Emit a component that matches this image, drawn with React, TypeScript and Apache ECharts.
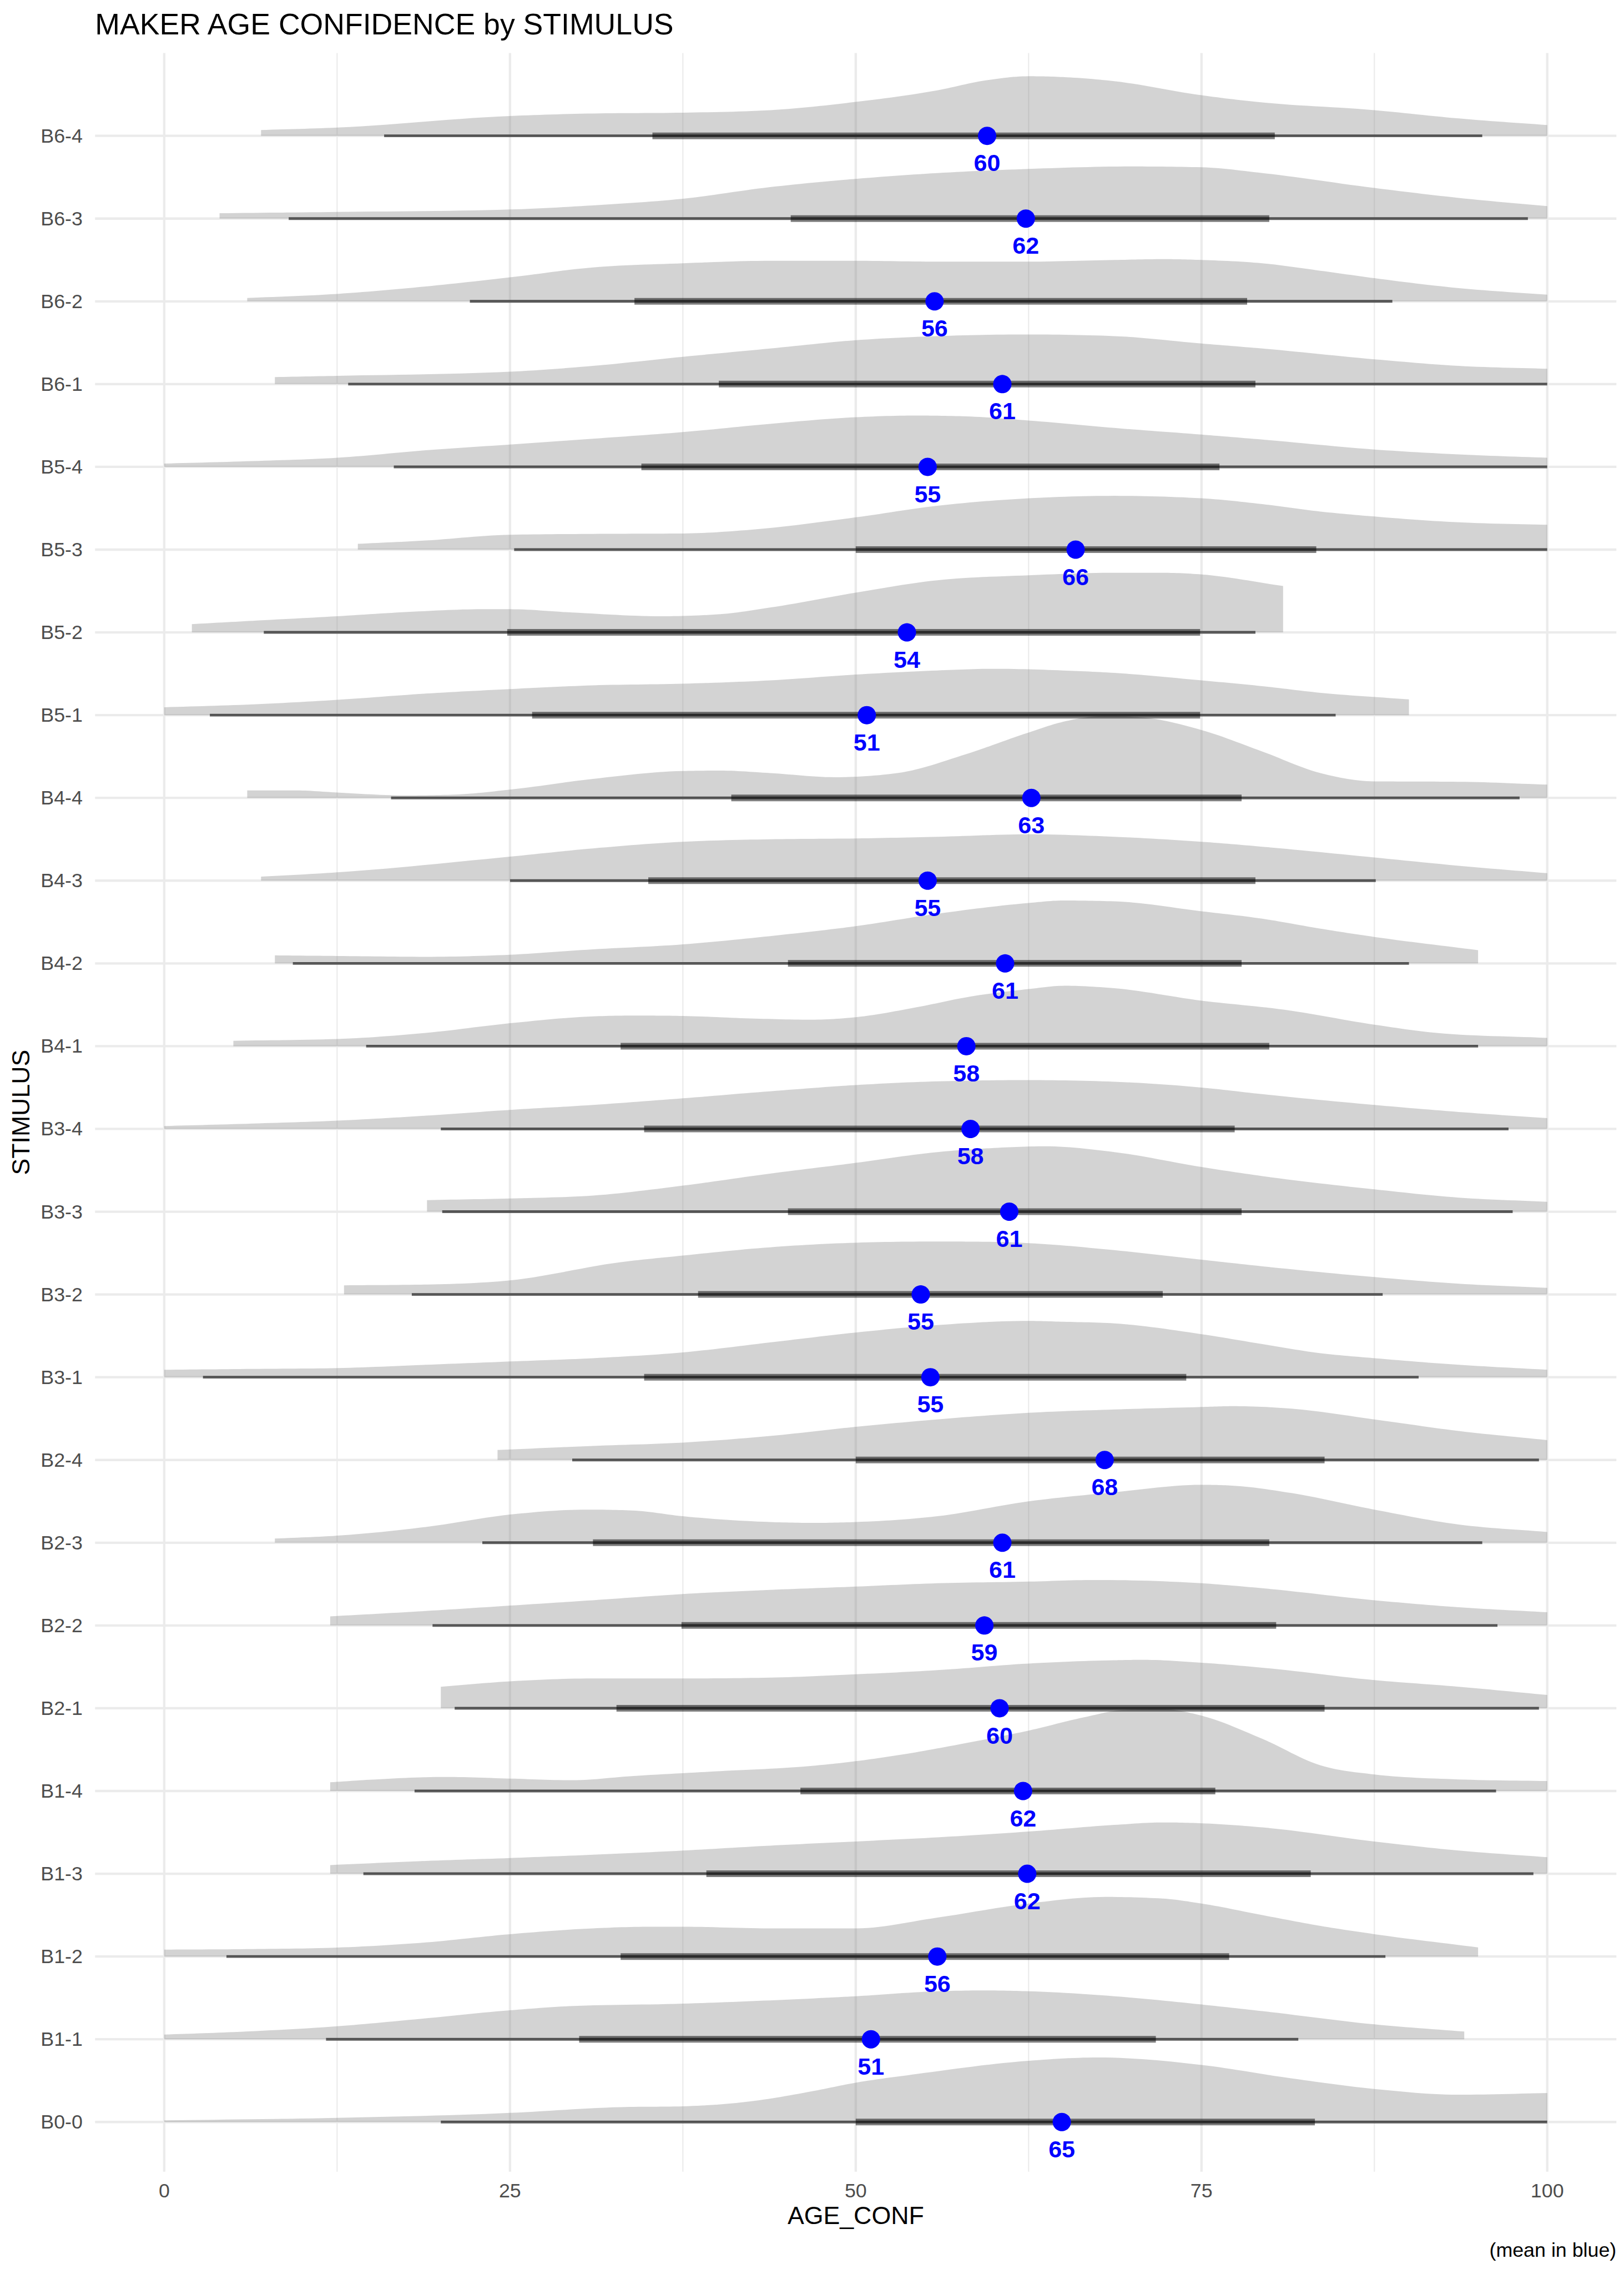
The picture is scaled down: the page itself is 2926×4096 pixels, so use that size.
import React, { useEffect, useRef } from 'react';
import * as echarts from 'echarts';

const W = 2926;
const H = 4096;
const FONT = "'Liberation Sans', Arial, Helvetica, sans-serif";

// Categories, bottom to top (y value = index)
const categories = ['B0-0', 'B1-1', 'B1-2', 'B1-3', 'B1-4', 'B2-1', 'B2-2', 'B2-3', 'B2-4', 'B3-1', 'B3-2', 'B3-3', 'B3-4', 'B4-1', 'B4-2', 'B4-3', 'B4-4', 'B5-1', 'B5-2', 'B5-3', 'B5-4', 'B6-1', 'B6-2', 'B6-3', 'B6-4'];

const xTicks = [0, 25, 50, 75, 100];
const xMinorTicks = [12.5, 37.5, 62.5, 87.5];

// 95% interval (thin line)
const thinLo = [20.0, 11.7, 4.5, 14.4, 18.1, 21.0, 19.4, 23.0, 29.5, 2.8, 17.9, 20.1, 20.0, 14.6, 9.3, 25.0, 16.4, 3.3, 7.2, 25.3, 16.6, 13.3, 22.1, 9.0, 15.9];
const thinHi = [100, 82.0, 88.3, 99.0, 96.3, 99.4, 96.4, 95.3, 99.4, 90.7, 88.1, 97.5, 97.2, 95.0, 90.0, 87.6, 98.0, 84.7, 78.9, 100, 100, 100, 88.8, 98.6, 95.3];
// 66% interval (thick line)
const thickLo = [50.0, 30.0, 33.0, 39.2, 46.0, 32.7, 37.4, 31.0, 50.0, 34.7, 38.6, 45.1, 34.7, 33.0, 45.1, 35.0, 41.0, 26.6, 24.8, 50.0, 34.5, 40.1, 34.0, 45.3, 35.3];
const thickHi = [83.2, 71.7, 77.0, 82.9, 76.0, 83.9, 80.4, 79.9, 83.9, 73.9, 72.2, 77.9, 77.4, 79.9, 77.9, 78.9, 77.9, 74.9, 74.9, 83.3, 76.3, 78.9, 78.3, 79.9, 80.3];
// means (blue points)
const means = [64.9, 51.1, 55.9, 62.4, 62.1, 60.4, 59.3, 60.6, 68.0, 55.4, 54.7, 61.1, 58.3, 58.0, 60.8, 55.2, 62.7, 50.8, 53.7, 65.9, 55.2, 60.6, 55.7, 62.3, 59.5];

// density outlines: [AGE_CONF, height in row units], bottom to top
const densities: number[][][] = [
  // B0-0
  [[0, 0.02], [12.5, 0.05], [25, 0.11], [33, 0.18], [37.5, 0.19], [42.4, 0.25], [46.8, 0.37], [50, 0.475], [54.4, 0.58], [62.5, 0.74], [67.5, 0.78], [75, 0.69], [81, 0.54], [87.5, 0.4], [93.5, 0.33], [100, 0.35]],
  // B1-1
  [[0, 0.057], [5, 0.087], [12.5, 0.157], [18.1, 0.24], [25, 0.35], [29.3, 0.4], [37.5, 0.43], [43.8, 0.47], [50, 0.52], [55.9, 0.58], [59.4, 0.59], [62.5, 0.58], [68.7, 0.52], [75, 0.42], [79.4, 0.34], [87.5, 0.18], [94, 0.093]],
  // B1-2
  [[0, 0.083], [6.4, 0.09], [12.5, 0.108], [18.9, 0.17], [25, 0.27], [31, 0.34], [35.2, 0.36], [37.5, 0.36], [43.8, 0.34], [50, 0.34], [55.9, 0.47], [62.5, 0.64], [68, 0.72], [72.2, 0.7], [75, 0.64], [79.4, 0.5], [83.6, 0.37], [87.5, 0.27], [95, 0.11]],
  // B1-3
  [[12, 0.105], [18.9, 0.155], [25, 0.19], [31, 0.23], [37.5, 0.28], [43.8, 0.34], [50, 0.39], [55.9, 0.44], [62.5, 0.51], [68.7, 0.59], [72.2, 0.62], [75, 0.61], [79.4, 0.56], [87.5, 0.39], [93.6, 0.28], [100, 0.2]],
  // B1-4
  [[12, 0.105], [15.3, 0.14], [20.3, 0.17], [25, 0.15], [29.5, 0.13], [33.8, 0.18], [40.2, 0.24], [46.6, 0.3], [50, 0.36], [53.7, 0.45], [58, 0.58], [62.5, 0.73], [66.5, 0.89], [69.4, 0.98], [72.2, 0.99], [75, 0.91], [79.4, 0.63], [83.6, 0.31], [87.5, 0.2], [93.6, 0.14], [100, 0.12]],
  // B2-1
  [[20, 0.26], [25, 0.325], [31, 0.36], [37.5, 0.36], [43.8, 0.37], [50, 0.41], [55.9, 0.46], [62.5, 0.54], [68.7, 0.58], [70.8, 0.585], [75, 0.55], [79.4, 0.49], [87.5, 0.34], [93.6, 0.26], [100, 0.16]],
  // B2-2
  [[12, 0.11], [18.9, 0.175], [25, 0.24], [31, 0.305], [37.5, 0.38], [43.8, 0.43], [50, 0.47], [55.9, 0.51], [62.5, 0.53], [67.3, 0.55], [75, 0.51], [79.4, 0.45], [87.5, 0.305], [93.6, 0.22], [100, 0.16]],
  // B2-3
  [[8, 0.05], [12.5, 0.085], [18.9, 0.19], [25, 0.34], [30.6, 0.4], [33.8, 0.39], [37.5, 0.32], [43.8, 0.25], [47, 0.24], [50, 0.25], [55.9, 0.32], [62.5, 0.5], [68.7, 0.61], [75, 0.7], [77.2, 0.69], [81.5, 0.6], [87.5, 0.4], [93.6, 0.22], [100, 0.13]],
  // B2-4
  [[24.1, 0.12], [31, 0.17], [37.5, 0.21], [43.8, 0.29], [50, 0.4], [55.9, 0.49], [62.5, 0.57], [68.7, 0.61], [75, 0.64], [77.2, 0.65], [81.5, 0.62], [87.5, 0.49], [93.6, 0.35], [100, 0.24]],
  // B3-1
  [[0, 0.09], [6.4, 0.1], [12.5, 0.11], [18.9, 0.15], [25, 0.19], [31, 0.23], [37.5, 0.3], [43.8, 0.42], [50, 0.54], [55.9, 0.63], [62.5, 0.68], [65, 0.67], [68.7, 0.65], [75, 0.52], [79.4, 0.4], [83.6, 0.29], [87.5, 0.23], [93.6, 0.15], [100, 0.09]],
  // B3-2
  [[13, 0.11], [19, 0.12], [25, 0.17], [33, 0.39], [37.5, 0.47], [43.8, 0.57], [50, 0.625], [55.9, 0.64], [60, 0.635], [62.5, 0.62], [68.7, 0.535], [75, 0.42], [79.4, 0.34], [87.5, 0.21], [93.6, 0.13], [100, 0.08]],
  // B3-3
  [[19, 0.14], [25, 0.16], [31, 0.195], [37.5, 0.315], [43.8, 0.46], [50, 0.59], [55.9, 0.72], [60, 0.77], [63.7, 0.79], [68.7, 0.72], [75, 0.54], [79.4, 0.43], [87.5, 0.27], [93.6, 0.17], [100, 0.12]],
  // B3-4
  [[0, 0.035], [6.4, 0.065], [12.5, 0.1], [18.9, 0.16], [25, 0.23], [31, 0.29], [37.5, 0.37], [43.8, 0.455], [50, 0.53], [55.9, 0.575], [62.5, 0.59], [68.7, 0.57], [75, 0.5], [79.4, 0.42], [87.5, 0.29], [93.6, 0.205], [100, 0.13]],
  // B4-1
  [[5, 0.065], [12.5, 0.087], [18.9, 0.16], [25, 0.277], [31, 0.36], [34.2, 0.37], [37.5, 0.365], [42.4, 0.335], [46.8, 0.32], [50, 0.35], [54.4, 0.47], [58.3, 0.6], [62.5, 0.69], [65.1, 0.73], [68.7, 0.7], [75, 0.55], [81, 0.44], [87.5, 0.26], [92, 0.16], [100, 0.1]],
  // B4-2
  [[8, 0.097], [12.5, 0.09], [18.9, 0.08], [25, 0.105], [31, 0.17], [37.5, 0.23], [43.8, 0.33], [50, 0.45], [55.9, 0.6], [62.5, 0.73], [65, 0.76], [68.7, 0.75], [75, 0.63], [79.4, 0.54], [83.6, 0.42], [87.5, 0.32], [95, 0.16]],
  // B4-3
  [[7, 0.048], [12.5, 0.1], [25, 0.29], [31, 0.39], [37.5, 0.47], [43.8, 0.5], [50, 0.51], [55.9, 0.53], [62.5, 0.56], [68.7, 0.53], [75, 0.47], [79.4, 0.41], [87.5, 0.28], [93.6, 0.18], [100, 0.09]],
  // B4-4
  [[6, 0.09], [9.6, 0.09], [12.5, 0.065], [17.4, 0.03], [21, 0.04], [25, 0.1], [31, 0.23], [37.5, 0.325], [40.2, 0.33], [43.8, 0.3], [48.5, 0.25], [53, 0.3], [58, 0.53], [62.5, 0.79], [65, 0.92], [68, 0.99], [70.8, 0.97], [75, 0.82], [79.4, 0.56], [83.6, 0.3], [87.5, 0.2], [93.6, 0.195], [100, 0.16]],
  // B5-1
  [[0, 0.095], [6.4, 0.13], [12.5, 0.185], [18.9, 0.26], [25, 0.315], [31, 0.36], [37.5, 0.38], [43.8, 0.42], [50, 0.49], [55.9, 0.54], [60, 0.56], [65, 0.54], [68.7, 0.51], [75, 0.42], [79.4, 0.35], [83.6, 0.27], [90, 0.19]],
  // B5-2
  [[2, 0.1], [6.4, 0.14], [12.5, 0.195], [18, 0.25], [23, 0.28], [25, 0.28], [29.5, 0.24], [35.9, 0.195], [40.2, 0.22], [43.8, 0.3], [50, 0.48], [55.9, 0.63], [62.5, 0.69], [68.7, 0.72], [72.2, 0.72], [75, 0.7], [80.9, 0.56]],
  // B5-3
  [[14, 0.07], [18.9, 0.11], [25, 0.18], [31, 0.19], [37.5, 0.195], [42.4, 0.24], [50, 0.39], [55.9, 0.53], [62.5, 0.62], [68.7, 0.65], [75, 0.62], [79.4, 0.55], [83.6, 0.46], [87.5, 0.4], [93.6, 0.33], [100, 0.3]],
  // B5-4
  [[0, 0.04], [6.4, 0.07], [12.5, 0.11], [18.9, 0.2], [25, 0.27], [31, 0.34], [37.5, 0.42], [43.8, 0.52], [50, 0.6], [54.4, 0.62], [58, 0.61], [62.5, 0.56], [68.7, 0.47], [75, 0.39], [79.4, 0.33], [87.5, 0.21], [93.6, 0.15], [100, 0.11]],
  // B6-1
  [[8, 0.085], [12.5, 0.1], [25, 0.15], [31, 0.22], [37.5, 0.33], [43.8, 0.43], [50, 0.53], [55.9, 0.58], [62.5, 0.6], [68.7, 0.58], [75, 0.49], [79.4, 0.43], [87.5, 0.3], [93.6, 0.22], [100, 0.185]],
  // B6-2
  [[6, 0.04], [12.5, 0.09], [18.9, 0.18], [25, 0.29], [31, 0.41], [37.5, 0.46], [43.8, 0.49], [50, 0.49], [55.9, 0.48], [62.5, 0.48], [68.7, 0.5], [72.2, 0.51], [75, 0.5], [79.4, 0.46], [83.6, 0.37], [87.5, 0.28], [93.6, 0.16], [100, 0.08]],
  // B6-3
  [[4, 0.065], [12.5, 0.08], [25, 0.11], [31, 0.16], [37.5, 0.24], [43.8, 0.38], [50, 0.48], [55.9, 0.55], [62.5, 0.6], [70, 0.63], [75, 0.62], [79.4, 0.55], [87.5, 0.37], [93.6, 0.25], [100, 0.15]],
  // B6-4
  [[7, 0.07], [12.5, 0.1], [25, 0.24], [31, 0.27], [37.5, 0.28], [43.8, 0.31], [50, 0.41], [55.9, 0.55], [59.4, 0.67], [62.5, 0.72], [65, 0.71], [68.7, 0.66], [75, 0.49], [79, 0.41], [87.5, 0.31], [93.6, 0.21], [100, 0.13]],
];

const Y_MIN = -0.6;
const Y_MAX = 25;
const X_MIN = -5;
const X_MAX = 105;

// monotone cubic (Steffen) sampling in pixel space, for drawing a smooth outline
function smoothOutline(pts: number[][]): number[][] {
  const n = pts.length;
  if (n < 3) return pts.slice();
  const sgn = (v: number) => (v > 0 ? 1 : v < 0 ? -1 : 0);
  const d: number[] = [];
  for (let i = 0; i < n - 1; i++) {
    d.push((pts[i + 1][1] - pts[i][1]) / (pts[i + 1][0] - pts[i][0]));
  }
  const m: number[] = new Array(n).fill(0);
  for (let i = 1; i < n - 1; i++) {
    const h0 = pts[i][0] - pts[i - 1][0];
    const h1 = pts[i + 1][0] - pts[i][0];
    const s0 = d[i - 1];
    const s1 = d[i];
    const p = (s0 * h1 + s1 * h0) / (h0 + h1);
    m[i] = (sgn(s0) + sgn(s1)) * Math.min(Math.abs(s0), Math.abs(s1), 0.5 * Math.abs(p)) || 0;
  }
  m[0] = d[0];
  m[n - 1] = d[n - 2];
  const out: number[][] = [];
  const steps = 14;
  for (let i = 0; i < n - 1; i++) {
    const [x0, y0] = pts[i];
    const [x1, y1] = pts[i + 1];
    const h = x1 - x0;
    for (let s = 0; s < steps; s++) {
      const t = s / steps;
      const t2 = t * t;
      const t3 = t2 * t;
      const h00 = 2 * t3 - 3 * t2 + 1;
      const h10 = t3 - 2 * t2 + t;
      const h01 = -2 * t3 + 3 * t2;
      const h11 = t3 - t2;
      out.push([x0 + t * h, h00 * y0 + h10 * h * m[i] + h01 * y1 + h11 * h * m[i + 1]]);
    }
  }
  out.push(pts[n - 1].slice());
  return out;
}

export default function App() {
  const ref = useRef<HTMLDivElement>(null);

  useEffect(() => {
    document.body.style.margin = '0';
    if (!ref.current) return;
    const chart = echarts.init(ref.current, undefined, { renderer: 'svg', width: W, height: H });

    const gridItems: number[][] = [
      ...xTicks.map((v) => [v, 0, 0]),
      ...xMinorTicks.map((v) => [v, 0, 1]),
      ...categories.map((_, i) => [0, i, 2]),
    ];

    const option: any = {
      animation: false,
      backgroundColor: '#ffffff',
      textStyle: { fontFamily: FONT },
      title: {
        text: 'MAKER AGE CONFIDENCE by STIMULUS',
        left: 171.3,
        top: 16,
        padding: 0,
        textStyle: { fontSize: 53.6, fontWeight: 'normal', color: '#000000', fontFamily: FONT },
      },
      grid: {
        left: 171.3,
        right: 13.7,
        top: 95.6,
        bottom: 184.3,
        containLabel: false,
        outerBoundsMode: 'none',
      },
      xAxis: {
        type: 'value',
        min: X_MIN,
        max: X_MAX,
        name: 'AGE_CONF',
        nameLocation: 'middle',
        nameGap: 56,
        nameMoveOverlap: false,
        nameTextStyle: { fontSize: 44.7, color: '#000000', fontFamily: FONT },
        axisLine: { show: false },
        axisTick: { show: false, customValues: xTicks },
        splitLine: { show: false },
        axisLabel: {
          customValues: xTicks,
          fontSize: 35.8,
          color: '#4D4D4D',
          margin: 16,
          fontFamily: FONT,
          formatter: (v: number) => String(v),
        },
      },
      yAxis: {
        type: 'value',
        min: Y_MIN,
        max: Y_MAX,
        name: 'STIMULUS',
        nameLocation: 'middle',
        nameGap: 111,
        nameRotate: 90,
        nameMoveOverlap: false,
        nameTextStyle: { fontSize: 44.7, color: '#000000', fontFamily: FONT },
        axisLine: { show: false },
        axisTick: { show: false, customValues: categories.map((_, i) => i) },
        splitLine: { show: false },
        axisLabel: {
          customValues: categories.map((_, i) => i),
          fontSize: 35.8,
          color: '#4D4D4D',
          margin: 22.4,
          fontFamily: FONT,
          formatter: (v: number) => categories[Math.round(v)] ?? '',
        },
      },
      graphic: [
        {
          type: 'text',
          x: 2912.3,
          y: 4053,
          style: {
            text: '(mean in blue)',
            fontSize: 35.8,
            fontFamily: FONT,
            fill: '#000000',
            align: 'right',
            verticalAlign: 'middle',
          },
        },
      ],
      series: [
        {
          type: 'custom',
          name: 'grid',
          z: 1,
          silent: true,
          clip: false,
          data: gridItems,
          encode: { x: 0, y: 1 },
          renderItem: (params: any, api: any) => {
            const v = api.value(0);
            const r = api.value(1);
            const kind = api.value(2);
            const cs = params.coordSys;
            if (kind === 2) {
              const p = api.coord([X_MIN, r]);
              return {
                type: 'line',
                shape: { x1: cs.x, y1: p[1], x2: cs.x + cs.width, y2: p[1] },
                style: { stroke: '#EBEBEB', lineWidth: 4.3 },
              };
            }
            const p = api.coord([v, 0]);
            return {
              type: 'line',
              shape: { x1: p[0], y1: cs.y, x2: p[0], y2: cs.y + cs.height },
              style: { stroke: '#EBEBEB', lineWidth: kind === 0 ? 4.3 : 2.15 },
            };
          },
        },
        {
          type: 'custom',
          name: 'halfeye',
          z: 2,
          silent: true,
          clip: false,
          data: categories.map((_, i) => [thinLo[i], i]),
          encode: { x: 0, y: 1 },
          renderItem: (params: any, api: any) => {
            const i = params.dataIndex;
            const dens = densities[i];
            const top = dens.map((pt) => api.coord([pt[0], i + pt[1]]));
            const curve = smoothOutline(top);
            const b0 = api.coord([dens[0][0], i]);
            const b1 = api.coord([dens[dens.length - 1][0], i]);
            const poly = [b0, ...curve, b1];
            const t0 = api.coord([thinLo[i], i]);
            const t1 = api.coord([thinHi[i], i]);
            const k0 = api.coord([thickLo[i], i]);
            const k1 = api.coord([thickHi[i], i]);
            return {
              type: 'group',
              children: [
                {
                  type: 'polygon',
                  shape: { points: poly },
                  style: { fill: 'rgba(125,125,125,0.34)' },
                },
                {
                  type: 'line',
                  shape: { x1: t0[0], y1: t0[1], x2: t1[0], y2: t1[1] },
                  style: { stroke: 'rgba(0,0,0,0.6)', lineWidth: 4.9, lineCap: 'butt' },
                },
                {
                  type: 'line',
                  shape: { x1: k0[0], y1: k0[1], x2: k1[0], y2: k1[1] },
                  style: { stroke: 'rgba(0,0,0,0.5)', lineWidth: 12, lineCap: 'butt' },
                },
              ],
            };
          },
        },
        {
          type: 'scatter',
          name: 'mean',
          z: 5,
          silent: true,
          symbol: 'circle',
          symbolSize: 33,
          itemStyle: { color: '#0000FF', opacity: 1 },
          data: means.map((m, i) => [m, i]),
          label: {
            show: true,
            position: 'bottom',
            distance: 10.6,
            color: '#0000FF',
            fontWeight: 'bold',
            fontSize: 43,
            fontFamily: FONT,
            formatter: (p: any) => String(Math.round(p.value[0])),
          },
        },
      ],
    };

    chart.setOption(option);
    return () => {
      chart.dispose();
    };
  }, []);

  return (
    <div
      ref={ref}
      style={{ position: 'absolute', left: 0, top: 0, width: W, height: H, background: '#ffffff' }}
    />
  );
}
